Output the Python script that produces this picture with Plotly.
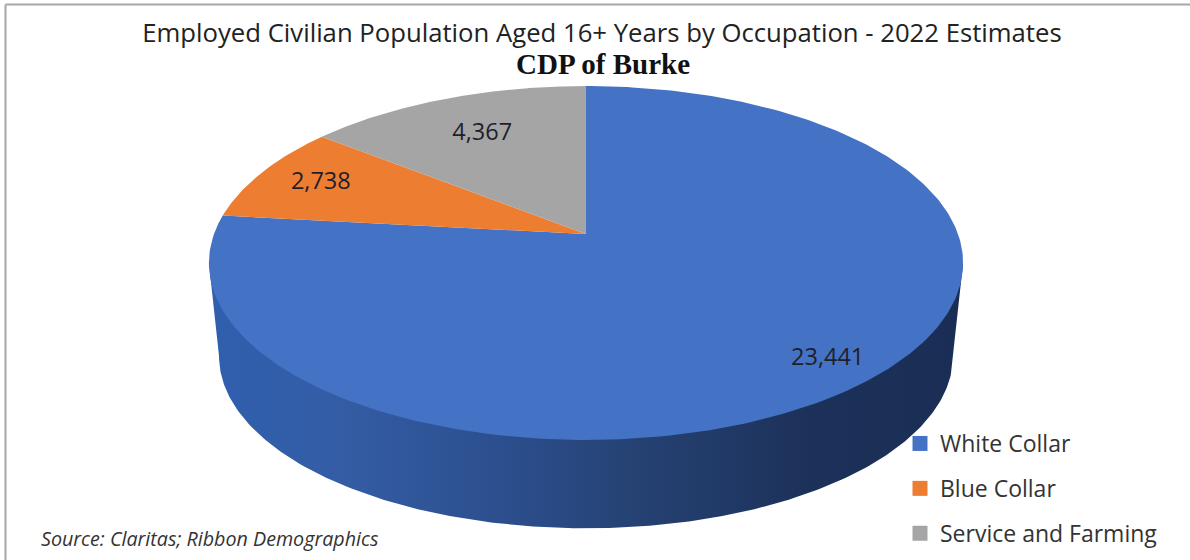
import numpy as np
import plotly.graph_objects as go

categories = ["White Collar", "Blue Collar", "Service and Farming"]
values = [23441, 2738, 4367]
colors = ["#4472C4", "#ED7D31", "#A5A5A5"]
value_labels = ["23,441", "2,738", "4,367"]
label_radius = [0.87, 0.81, 0.71]
title_text = "Employed Civilian Population Aged 16+ Years by Occupation - 2022 Estimates"
subtitle_text = "CDP of Burke"
source_text = "Source: Claritas; Ribbon Demographics"

# perspective pie projection (plot area in page pixels)
CX, CY, A, B, K = 586, 234, 372, 172.2, 0.1638
A2, B2, CY2 = 362, 167.5, 328


def project(theta, r=1.0, a=A, b=B, cy=CY):
    u, v = r * np.sin(theta), r * np.cos(theta)
    d = 1 + K * v
    return CX + a * u / d, cy - b * v / d


fig = go.Figure()

# side wall
t_ext = np.arcsin(K)
front = np.linspace(np.pi / 2 + t_ext, 3 * np.pi / 2 - t_ext, 240)
x_low, y_low = project(front, a=A2, b=B2, cy=CY2)
x_r, y_r = project(front[0])
x_l, y_l = project(front[-1])
fig.add_trace(go.Scatter(
    x=np.r_[x_r, x_low, x_l], y=np.r_[y_r, y_low, y_l],
    mode="lines", line=dict(width=0), fill="toself",
    fillgradient=dict(type="horizontal", colorscale=[
        [0.0, "#2F5FAE"], [0.17, "#345DA5"], [0.38, "#2C4F8F"], [0.55, "#264375"],
        [0.8, "#1C3159"], [1.0, "#1A2E55"]]),
    hoverinfo="skip", showlegend=False))

# top face: slices run clockwise from 12 o'clock, starting with White Collar
fractions = np.array(values) / sum(values)
edges = np.r_[0, np.cumsum(fractions)] * 2 * np.pi
for i, name in enumerate(categories):
    th = np.linspace(edges[i], edges[i + 1], 300)
    x, y = project(th)
    fig.add_trace(go.Scatter(
        x=np.r_[CX, x, CX], y=np.r_[CY, y, CY], mode="lines",
        line=dict(width=0), fill="toself", fillcolor=colors[i],
        name=name, showlegend=False, hoverinfo="name"))

# value labels
mid = (edges[:-1] + edges[1:]) / 2
lx, ly = project(mid, np.array(label_radius))
fig.add_trace(go.Scatter(
    x=lx, y=ly, mode="text", text=value_labels,
    textfont=dict(family="Open Sans", size=23.5, color="#1f1f2a"),
    textposition="middle center", hoverinfo="skip", showlegend=False))

# legend entries
for i, name in enumerate(categories):
    fig.add_trace(go.Scatter(
        x=[None], y=[None], mode="markers", name=name, legendgroup=name,
        marker=dict(symbol="square", size=15, color=colors[i])))

fig.update_layout(
    width=1190, height=560, margin=dict(l=0, r=0, t=0, b=0),
    paper_bgcolor="white", plot_bgcolor="white",
    xaxis=dict(range=[0, 1190], visible=False, fixedrange=True),
    yaxis=dict(range=[560, 0], visible=False, fixedrange=True),
    title=dict(text=title_text, x=602 / 1190, xanchor="center", y=1 - 33 / 560, yanchor="middle",
               font=dict(family="Open Sans", size=25.7, color="#222222")),
    legend=dict(x=900 / 1190, y=1 - 422 / 560, xanchor="left", yanchor="top",
                tracegroupgap=12, bgcolor="rgba(0,0,0,0)",
                font=dict(family="Open Sans", size=23, color="#333333")),
    annotations=[
        dict(text=f"<b>{subtitle_text}</b>", x=603, y=64, xref="x", yref="y", showarrow=False,
             font=dict(family="Liberation Serif", size=29, color="#111111")),
        dict(text=f"<i>{source_text}</i>", x=39, y=538, xref="x", yref="y", xanchor="left",
             showarrow=False, font=dict(family="Open Sans", size=19.7, color="#333333")),
    ],
    shapes=[
        dict(type="line", x0=5.5, x1=5.5, y0=4.5, y1=560, xref="x", yref="y",
             line=dict(color="#A6A6A6", width=2)),
        dict(type="line", x0=5.5, x1=1190, y0=4.5, y1=4.5, xref="x", yref="y",
             line=dict(color="#A6A6A6", width=2)),
    ],
)
fig.write_html("out.html", config={"displayModeBar": False},
               post_script="document.body.style.margin='0';document.documentElement.style.overflow='hidden';")
